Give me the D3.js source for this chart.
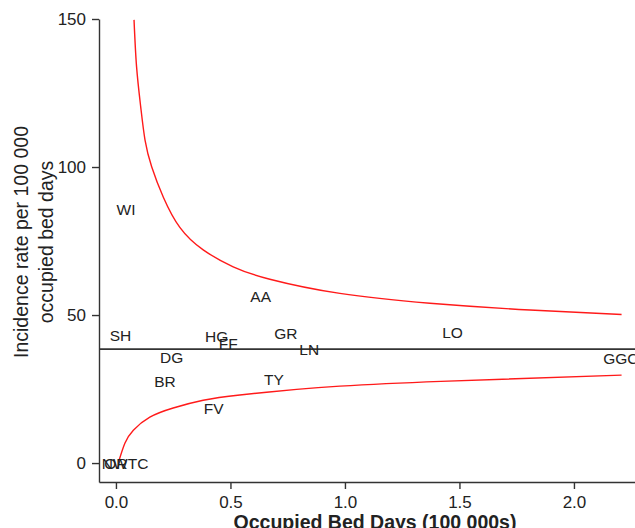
<!DOCTYPE html>
<html>
<head>
<meta charset="utf-8">
<script src="https://cdn.jsdelivr.net/npm/d3@7"></script>
<style>
  body { margin: 0; background: #fff; }
  svg { display: block; font-family: "Liberation Sans", Arial, sans-serif; }
</style>
</head>
<body>
<script>
// Health board labels with occupied bed days (100 000s) and incidence rate
var boards = ["WI", "AA", "SH", "HG", "FF", "GR", "LN", "DG", "BR", "TY", "FV", "LO", "GGC", "OR", "NWTC"];
var bedDays = [0.044, 0.632, 0.02, 0.44, 0.49, 0.742, 0.844, 0.243, 0.214, 0.69, 0.427, 1.47, 2.205, 0.0, 0.04];
var rates = [85.7, 56.4, 43.2, 42.9, 40.4, 43.8, 38.4, 35.7, 27.5, 28.4, 18.3, 44.0, 35.4, 0, 0];

// overall mean rate
var meanRate = 38.5;

// control limits
var upperX = [0.079, 0.09, 0.108, 0.127, 0.156, 0.207, 0.279, 0.381, 0.512, 0.672, 0.978, 1.371, 1.808, 2.208];
var upperY = [149.7, 133.9, 120.4, 109.1, 100.1, 89.8, 79.6, 72.0, 66.3, 62.1, 57.3, 54.0, 51.7, 50.2];
var lowerX = [0.012, 0.039, 0.076, 0.148, 0.25, 0.381, 0.541, 0.789, 0.978, 1.419, 2.208];
var lowerY = [0.5, 6.7, 11.1, 15.5, 18.6, 21.2, 23.0, 24.9, 26.0, 27.6, 29.7];

var xTicks = [0, 0.5, 1, 1.5, 2];
var yTicks = [0, 50, 100, 150];

let w = 635;
let h = 528;

var svg = d3.select("body")
  .append("svg")
  .attr("width", w)
  .attr("height", h);

let xScale = d3.scaleLinear()
  .domain([-0.074, 2.33])
  .range([99, 99 + 2.404 * 229]);

let yScale = d3.scaleLinear()
  .domain([-6.4, 150])
  .range([482, 19]);

// axes
let xAxis = d3.axisBottom(xScale)
  .tickValues(xTicks)
  .tickFormat(d3.format(".1f"))
  .tickSizeInner(7)
  .tickSizeOuter(0)
  .tickPadding(7);

let yAxis = d3.axisLeft(yScale)
  .tickValues(yTicks)
  .tickSizeInner(7)
  .tickSizeOuter(0)
  .tickPadding(6);

var gx = svg.append("g")
  .attr("transform", "translate(0,482)")
  .call(xAxis);

var gy = svg.append("g")
  .attr("transform", "translate(99,0)")
  .call(yAxis);

[gx, gy].forEach(function(g) {
  g.selectAll("path, line").attr("stroke", "#333").attr("stroke-width", 1.4);
  g.selectAll("text")
    .attr("font-size", "17px")
    .attr("fill", "#222")
    .attr("font-family", "Liberation Sans, Arial, sans-serif");
});

// mean line
svg.append("line")
  .attr("x1", xScale.range()[0])
  .attr("x2", xScale.range()[1])
  .attr("y1", yScale(meanRate))
  .attr("y2", yScale(meanRate))
  .attr("stroke", "#333")
  .attr("stroke-width", 1.8);

// funnel limits
var line = d3.line()
  .x(function(d){ return xScale(d[0]); })
  .y(function(d){ return yScale(d[1]); })
  .curve(d3.curveNatural);

svg.append("path")
  .datum(d3.zip(upperX, upperY))
  .attr("d", line)
  .attr("fill", "none")
  .attr("stroke", "#ff1a1a")
  .attr("stroke-width", 1.4);

svg.append("path")
  .datum(d3.zip(lowerX, lowerY))
  .attr("d", line)
  .attr("fill", "none")
  .attr("stroke", "#ff1a1a")
  .attr("stroke-width", 1.4);

// board labels at their points
svg.selectAll("text.board")
  .data(boards)
  .enter()
  .append("text")
  .attr("class", "board")
  .text(function(d){ return d; })
  .attr("x", function(d, i){ return xScale(bedDays[i]); })
  .attr("y", function(d, i){ return yScale(rates[i]); })
  .attr("dy", "0.36em")
  .attr("text-anchor", "middle")
  .attr("font-size", "15.5px")
  .attr("fill", "#222");

// axis titles
svg.append("text")
  .text("Occupied Bed Days (100 000s)")
  .attr("x", 375)
  .attr("y", 529)
  .attr("text-anchor", "middle")
  .attr("font-size", "19.5px")
  .attr("font-weight", "bold")
  .attr("fill", "#222");

var yTitle = svg.append("text")
  .attr("transform", "translate(28,242) rotate(-90)")
  .attr("text-anchor", "middle")
  .attr("font-size", "19.5px")
  .attr("fill", "#222");

yTitle.append("tspan").attr("x", 0).attr("y", 0).text("Incidence rate per 100 000");
yTitle.append("tspan").attr("x", 0).attr("y", 25).text("occupied bed days");
</script>
</body>
</html>
